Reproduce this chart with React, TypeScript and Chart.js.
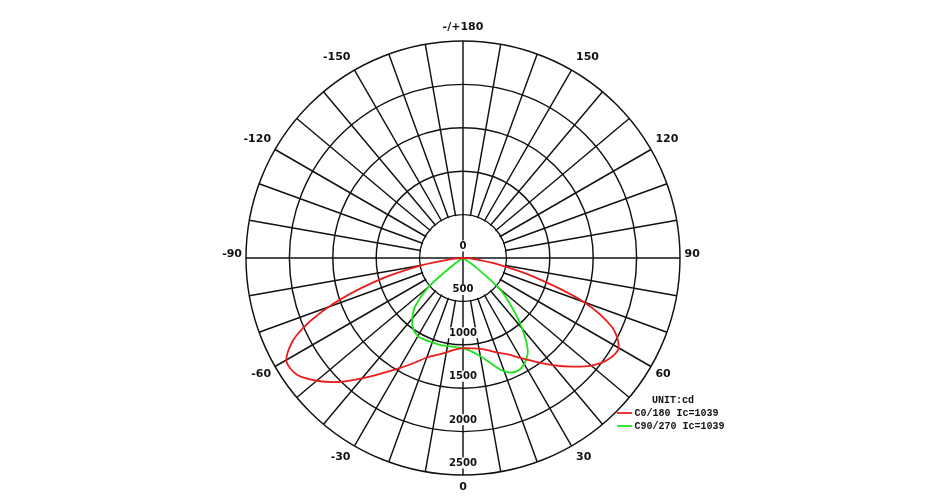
import React, { useEffect, useRef } from 'react';
import { Chart, registerables } from 'chart.js';

Chart.register(...registerables);

// ---- data ----
const ANGLE_STEP = 5;
const THETA = [-90, -85, -80, -75, -70, -65, -60, -55, -50, -45, -40, -35, -30, -25, -20, -15, -10, -5, 0, 5, 10, 15, 20, 25, 30, 35, 40, 45, 50, 55, 60, 65, 70, 75, 80, 85, 90];
const C0_180 = [0, 120, 480, 1050, 1650, 2120, 2350, 2340, 2200, 2020, 1810, 1620, 1465, 1335, 1220, 1155, 1105, 1060, 1039, 1045, 1060, 1100, 1160, 1225, 1330, 1460, 1610, 1770, 1930, 2040, 2070, 1900, 1480, 860, 380, 110, 0];
const C90_270 = [0, 0, 0, 0, 0, 0, 0, 120, 520, 770, 910, 1000, 1040, 1040, 1035, 1035, 1030, 1030, 1039, 1080, 1150, 1260, 1390, 1445, 1410, 1300, 1060, 790, 540, 150, 0, 0, 0, 0, 0, 0, 0];
const RING_TICKS = [0, 500, 1000, 1500, 2000, 2500];
const ANGLE_LABELS = ['-/+180', '150', '120', '90', '60', '30', '0', '-30', '-60', '-90', '-120', '-150'];
const ANGLE_LABEL_THETA = [180, 150, 120, 90, 60, 30, 0, -30, -60, -90, -120, -150];
const SERIES_NAMES = ['C0/180 Ic=1039', 'C90/270 Ic=1039'];
const UNIT_LABEL = 'UNIT:cd';

const GRID_COLOR = '#111111';
const GRID_WIDTH = 1.45;
const COLORS = ['rgb(235,28,28)', 'rgb(30,228,30)'];

const N = 360 / ANGLE_STEP;
const thetaOfIndex = (i: number) => {
  let t = 180 - i * ANGLE_STEP;
  if (t <= -180) t += 360;
  return t;
};
const indexOfTheta = (t: number) => (((180 - t) / ANGLE_STEP) % N + N) % N;

const buildSeries = (vals: number[]) =>
  Array.from({ length: N }, (_, i) => {
    const k = THETA.indexOf(thetaOfIndex(i));
    return k >= 0 ? vals[k] : 0;
  });

const polarDecor = {
  id: 'polarDecor',
  beforeDatasetsDraw(chart: any) {
    const s = chart.scales.r;
    const ctx = chart.ctx;
    const cx = s.xCenter;
    const cy = s.yCenter;
    const R = s.getDistanceFromCenterForValue(RING_TICKS[RING_TICKS.length - 1]);
    const r1 = s.getDistanceFromCenterForValue(RING_TICKS[1]);
    ctx.save();
    // inner circle: only the two axes cross it
    ctx.fillStyle = '#fff';
    ctx.beginPath();
    ctx.arc(cx, cy, r1 - 0.8, 0, Math.PI * 2);
    ctx.fill();
    ctx.strokeStyle = GRID_COLOR;
    ctx.lineWidth = GRID_WIDTH;
    [0, 90, 180, -90].forEach((t) => {
      const p = s.getPointPosition(indexOfTheta(t), r1);
      ctx.beginPath();
      ctx.moveTo(cx, cy);
      ctx.lineTo(p.x, p.y);
      ctx.stroke();
    });
    // ring labels along the 0 direction
    ctx.font = 'bold 10px "DejaVu Sans"';
    ctx.textAlign = 'center';
    ctx.textBaseline = 'middle';
    RING_TICKS.forEach((v) => {
      const d = s.getDistanceFromCenterForValue(v);
      const p = s.getPointPosition(indexOfTheta(0), d);
      const y = p.y - 12;
      const txt = String(v);
      const w = ctx.measureText(txt).width;
      ctx.fillStyle = '#fff';
      ctx.fillRect(p.x - w / 2 - 1, y - 5.5, w + 2, 11);
      ctx.fillStyle = '#111';
      ctx.fillText(txt, p.x, y + 0.5);
    });
    // angle labels
    ctx.font = 'bold 11px "DejaVu Sans"';
    ANGLE_LABELS.forEach((lab, k) => {
      const p = s.getPointPosition(indexOfTheta(ANGLE_LABEL_THETA[k]), R);
      const ux = (p.x - cx) / R;
      const uy = (p.y - cy) / R;
      let x = p.x;
      let y: number;
      if (Math.abs(ux) < 0.01) {
        ctx.textAlign = 'center';
      } else if (ux > 0) {
        ctx.textAlign = 'left';
        x = p.x + 4.5;
      } else {
        ctx.textAlign = 'right';
        x = p.x - 4;
      }
      if (Math.abs(uy) < 0.01) y = p.y - 4;
      else y = p.y + uy * 8 + Math.sign(uy) * 5 - 1;
      ctx.fillStyle = '#111';
      ctx.fillText(lab, x, y);
    });
    ctx.restore();
  },
  afterDatasetsDraw(chart: any) {
    const ctx = chart.ctx;
    ctx.save();
    ctx.font = 'bold 10px "Liberation Mono"';
    ctx.textAlign = 'left';
    ctx.textBaseline = 'middle';
    ctx.fillStyle = '#111';
    ctx.fillText(UNIT_LABEL, 652, 400);
    chart.data.datasets.forEach((ds: any, k: number) => {
      const y = 413 + k * 13;
      ctx.strokeStyle = ds.borderColor;
      ctx.lineWidth = 1.8;
      ctx.beginPath();
      ctx.moveTo(617, y);
      ctx.lineTo(632, y);
      ctx.stroke();
      ctx.fillStyle = '#111';
      ctx.fillText(ds.label, 634.5, y);
    });
    ctx.restore();
  },
};

export default function App() {
  const ref = useRef<HTMLCanvasElement | null>(null);
  useEffect(() => {
    if (!ref.current) return;
    const labels = Array.from({ length: N }, (_, i) => String(thetaOfIndex(i)));
    const chart = new Chart(ref.current, {
      type: 'radar',
      data: {
        labels,
        datasets: [
          { label: SERIES_NAMES[0], data: buildSeries(C0_180), borderColor: COLORS[0], backgroundColor: COLORS[0], fill: false, borderWidth: 1.8, tension: 0.3, pointRadius: 0 },
          { label: SERIES_NAMES[1], data: buildSeries(C90_270), borderColor: COLORS[1], backgroundColor: COLORS[1], fill: false, borderWidth: 1.8, tension: 0.3, pointRadius: 0 },
        ],
      },
      options: {
        animation: false,
        responsive: true,
        maintainAspectRatio: false,
        layout: { padding: { left: 0, right: 24, top: 41, bottom: 25 } },
        plugins: { legend: { display: false }, tooltip: { enabled: false } },
        elements: { point: { radius: 0, hoverRadius: 0 } },
        scales: {
          r: {
            startAngle: 0,
            min: 0,
            max: 2500,
            ticks: { display: false, stepSize: 500 },
            grid: { circular: true, color: GRID_COLOR, lineWidth: GRID_WIDTH },
            angleLines: {
              display: true,
              color: GRID_COLOR,
              lineWidth: (c: any) => (thetaOfIndex(c.index) % 10 === 0 ? GRID_WIDTH : 0),
            },
            pointLabels: { display: false },
          },
        },
      },
      plugins: [polarDecor],
    } as any);
    return () => chart.destroy();
  }, []);
  return (
    <div style={{ position: 'absolute', left: 0, top: 0, width: 950, height: 500, background: '#fff' }}>
      <canvas ref={ref} />
    </div>
  );
}
